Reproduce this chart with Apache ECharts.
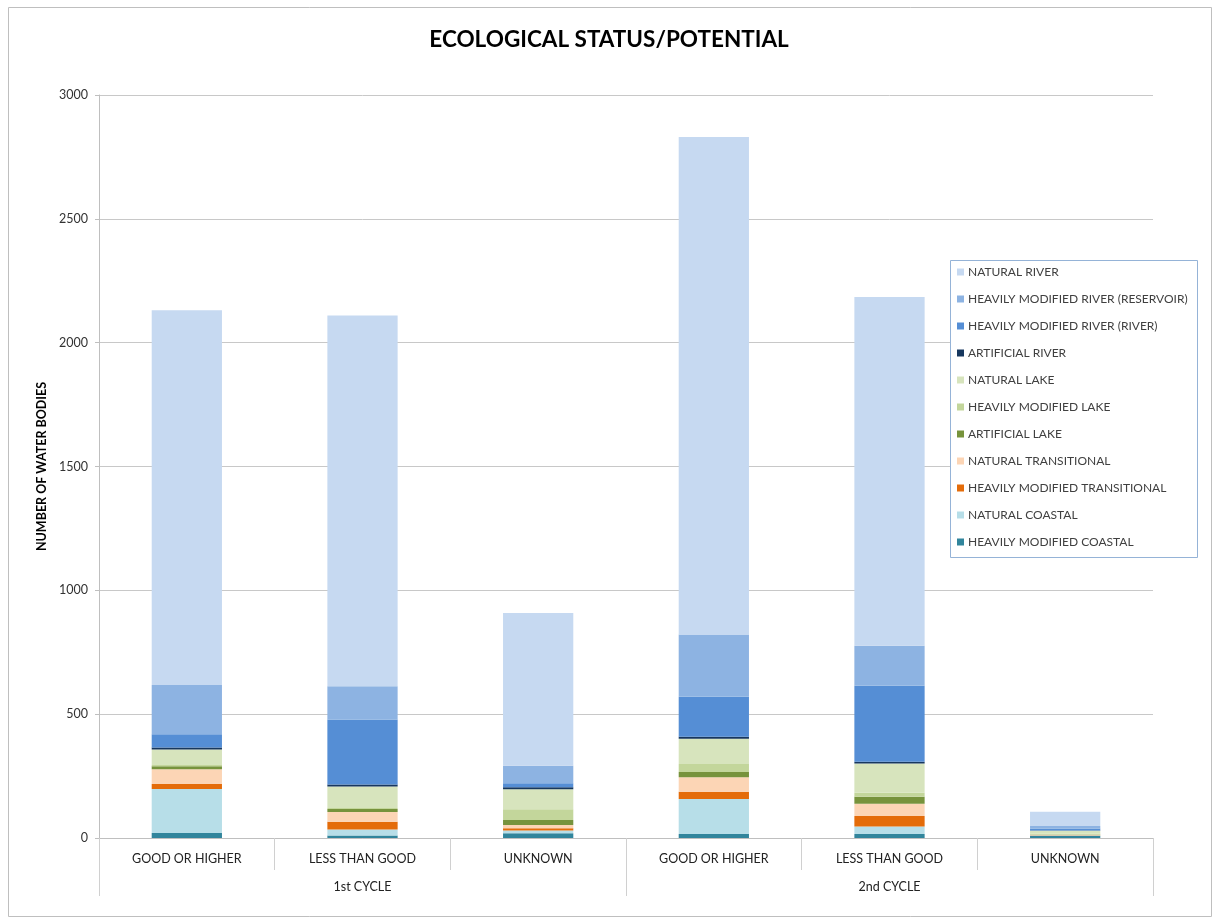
<!DOCTYPE html>
<html>
<head>
<meta charset="utf-8">
<script src="https://cdn.jsdelivr.net/npm/echarts@6/dist/echarts.min.js"></script>
<style>
  html, body { margin: 0; padding: 0; background: #fff; }
  #chart { width: 1218px; height: 924px; }
</style>
</head>
<body>
<div id="chart"></div>
<script>
// Categories: status classes, grouped by RBMP cycle
const statusLabels = ['GOOD OR HIGHER', 'LESS THAN GOOD', 'UNKNOWN', 'GOOD OR HIGHER', 'LESS THAN GOOD', 'UNKNOWN'];
const cycleLabels = ['1st CYCLE', '2nd CYCLE'];
const yTicks = { min: 0, max: 3000, interval: 500 };

// Number of water bodies per water category (stacked bottom to top)
const heavilyModifiedCoastal = [20, 10, 19, 16, 16, 9];
const naturalCoastal = [178, 24, 11, 141, 30, 1];
const heavilyModifiedTransitional = [20, 32, 9, 30, 43, 1];
const naturalTransitional = [60, 39, 13, 58, 49, 2];
const artificialLake = [12, 12, 21, 21, 29, 1];
const heavilyModifiedLake = [5, 4, 43, 33, 16, 3];
const naturalLake = [62, 87, 81, 102, 118, 12];
const artificialRiver = [8, 8, 8, 8, 7, 1];
const heavilyModifiedRiverRiver = [54, 262, 16, 161, 307, 8];
const heavilyModifiedRiverReservoir = [199, 135, 71, 252, 161, 10];
const naturalRiver = [1513, 1497, 616, 2008, 1408, 58];

const seriesDefs = [
  ['HEAVILY MODIFIED COASTAL', heavilyModifiedCoastal, '#31859c'],
  ['NATURAL COASTAL', naturalCoastal, '#b7dee8'],
  ['HEAVILY MODIFIED TRANSITIONAL', heavilyModifiedTransitional, '#e46c0a'],
  ['NATURAL TRANSITIONAL', naturalTransitional, '#fcd5b5'],
  ['ARTIFICIAL LAKE', artificialLake, '#77933c'],
  ['HEAVILY MODIFIED LAKE', heavilyModifiedLake, '#c3d69b'],
  ['NATURAL LAKE', naturalLake, '#d7e4bd'],
  ['ARTIFICIAL RIVER', artificialRiver, '#17375e'],
  ['HEAVILY MODIFIED RIVER (RIVER)', heavilyModifiedRiverRiver, '#558ed5'],
  ['HEAVILY MODIFIED RIVER (RESERVOIR)', heavilyModifiedRiverReservoir, '#8db3e2'],
  ['NATURAL RIVER', naturalRiver, '#c6d9f1']
];

const FONT = 'Lato, "Open Sans", sans-serif';

const chart = echarts.init(document.getElementById('chart'), null, { renderer: 'canvas' });

chart.setOption({
  animation: false,
  backgroundColor: '#ffffff',
  title: {
    text: 'ECOLOGICAL STATUS/POTENTIAL',
    left: 'center',
    top: 23,
    textStyle: { fontFamily: FONT, fontSize: 22.5, fontWeight: 'bold', color: '#000' }
  },
  graphic: [
    {
      type: 'rect',
      shape: { x: 8.5, y: 7.5, width: 1203, height: 909 },
      style: { fill: 'none', stroke: '#bfbfbf', lineWidth: 1 },
      z: -1
    },
    {
      type: 'rect',
      shape: { x: 950.5, y: 260.5, width: 247, height: 297 },
      style: { fill: '#fff', stroke: '#95b3d7', lineWidth: 1 },
      z: 5
    }
  ],
  legend: {
    orient: 'vertical',
    left: 957,
    top: 265,
    z: 10,
    data: seriesDefs.map(d => d[0]).reverse(),
    icon: 'rect',
    itemWidth: 7,
    itemHeight: 7,
    itemGap: 13,
    padding: 0,
    textStyle: { fontFamily: FONT, fontSize: 12, color: '#404040', padding: [0, 0, 0, -1], height: 14, lineHeight: 14 }
  },
  grid: { left: 99, right: 65, top: 95, bottom: 86, containLabel: false },
  xAxis: [
    {
      type: 'category',
      data: statusLabels,
      position: 'bottom',
      axisLine: { show: true, lineStyle: { color: '#bfbfbf' } },
      axisTick: { show: true, interval: 0, length: 32, lineStyle: { color: '#d0d0d0' } },
      axisLabel: { interval: 0, margin: 14, fontFamily: FONT, fontSize: 12.5, color: '#222' }
    },
    {
      type: 'category',
      data: cycleLabels,
      position: 'bottom',
      axisLine: { show: false },
      axisTick: { show: true, interval: 0, length: 58, lineStyle: { color: '#d0d0d0' } },
      axisLabel: { interval: 0, margin: 42, fontFamily: FONT, fontSize: 12.5, color: '#222' },
      splitLine: { show: false }
    }
  ],
  yAxis: {
    type: 'value',
    min: yTicks.min,
    max: yTicks.max,
    interval: yTicks.interval,
    name: 'NUMBER OF WATER BODIES',
    nameLocation: 'middle',
    nameRotate: 90,
    nameGap: 49,
    nameTextStyle: { fontFamily: FONT, fontSize: 12.5, fontWeight: 'bold', color: '#000' },
    axisLine: { show: true, lineStyle: { color: '#bfbfbf' } },
    axisTick: { show: true, length: 4, lineStyle: { color: '#bfbfbf' } },
    axisLabel: { margin: 11, fontFamily: FONT, fontSize: 12.5, color: '#333', formatter: v => String(v) },
    splitLine: { show: true, lineStyle: { color: '#c8c8c8', width: 1 } }
  },
  series: seriesDefs.map(([name, values, color]) => ({
    name,
    type: 'bar',
    stack: 'total',
    xAxisIndex: 0,
    barWidth: '40%',
    data: values,
    itemStyle: { color }
  }))
});
</script>
</body>
</html>
